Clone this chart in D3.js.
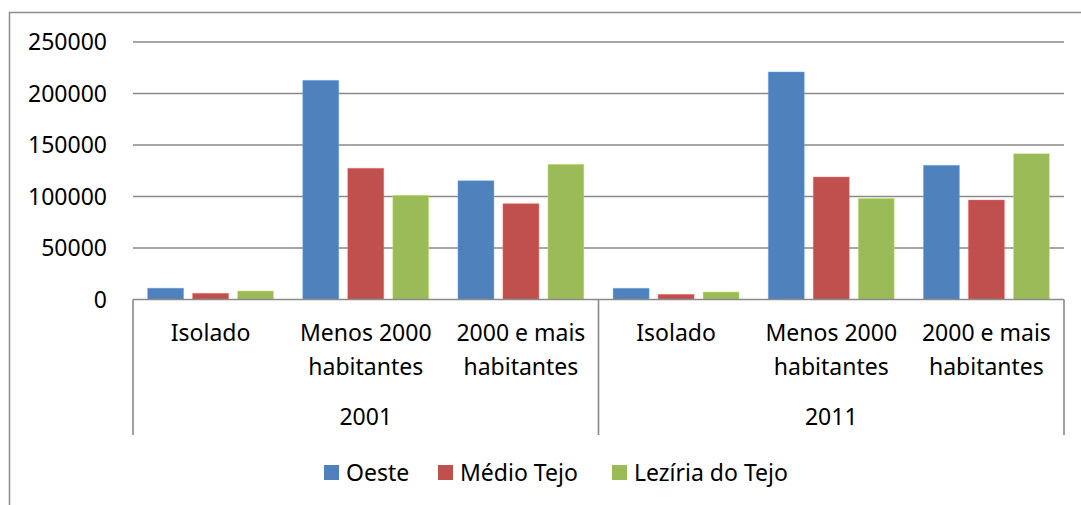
<!DOCTYPE html>
<html>
<head>
<meta charset="utf-8">
<script src="https://cdn.jsdelivr.net/npm/d3@7"></script>
<style>
  body { margin: 0; background: #fff; }
  svg { display: block; font-family: "Noto Sans", "Open Sans", sans-serif; }
</style>
</head>
<body>
<div id="chart"></div>
<script>
// Data
const years = ["2001", "2011"];
const settlements = ["Isolado", "Menos 2000 habitantes", "2000 e mais habitantes"];
const series = ["Oeste", "Médio Tejo", "Lezíria do Tejo"];
const colors = ["#4F81BD", "#C0504D", "#9BBB59"];

// values per series, ordered 2001 (Isolado, Menos, Mais) then 2011 (same)
const oeste = [11000, 212800, 115300, 10900, 220900, 130300];
const medioTejo = [6000, 127400, 93000, 5000, 118900, 96600];
const leziriaTejo = [8300, 101200, 131300, 7300, 98200, 141600];
const yTicks = [0, 50000, 100000, 150000, 200000, 250000];

const values = [oeste, medioTejo, leziriaTejo];
const W = 1081, H = 505;
const plot = { left: 133, right: 1064, top: 42, bottom: 299.5 };
const fontSize = 23;

const svg = d3.select("#chart").append("svg")
    .attr("width", W)
    .attr("height", H);

// outer chart border (runs past the bottom/right of the picture)
svg.append("rect")
    .attr("x", 9.5).attr("y", 12.5)
    .attr("width", W + 20).attr("height", H + 20)
    .attr("fill", "none")
    .attr("stroke", "#8c8c8c")
    .attr("stroke-width", 1.5);

// categories: year x settlement
const cats = [];
years.forEach((yr) => settlements.forEach((s) => cats.push(yr + "|" + s)));

const x0 = d3.scaleBand().domain(cats).range([plot.left, plot.right]);
const x1 = d3.scaleBand().domain(series).range([0, x0.bandwidth()])
    .paddingInner(0.2).paddingOuter(0.325);
const y = d3.scaleLinear().domain([0, 250000]).range([plot.bottom, plot.top]);

// gridlines
svg.append("g")
    .selectAll("line")
    .data(yTicks.slice(1))
    .join("line")
    .attr("x1", plot.left).attr("x2", plot.right)
    .attr("y1", (d) => y(d)).attr("y2", (d) => y(d))
    .attr("stroke", "#8a8a8a")
    .attr("stroke-width", 1.6);

// y tick labels
svg.append("g")
    .selectAll("text")
    .data(yTicks)
    .join("text")
    .attr("x", 107)
    .attr("y", (d) => y(d))
    .attr("dy", "0.35em")
    .attr("text-anchor", "end")
    .attr("font-size", fontSize)
    .attr("fill", "#000")
    .text((d) => d);

// bars
const barG = svg.append("g");
series.forEach((s, si) => {
    barG.append("g")
        .selectAll("rect")
        .data(values[si].map((v, i) => ({ cat: cats[i], v })))
        .join("rect")
        .attr("x", (d) => x0(d.cat) + x1(s))
        .attr("y", (d) => y(d.v))
        .attr("width", x1.bandwidth())
        .attr("height", (d) => y(0) - y(d.v))
        .attr("fill", colors[si])
        .attr("stroke", d3.color(colors[si]).brighter(0.8))
        .attr("stroke-opacity", 0.5)
        .attr("stroke-width", 0.8);
});

// category axis: baseline + separators
const axisBottom = 435;
svg.append("line")
    .attr("x1", plot.left).attr("x2", plot.right)
    .attr("y1", plot.bottom).attr("y2", plot.bottom)
    .attr("stroke", "#8a8a8a").attr("stroke-width", 1.6);

const yearScale = d3.scaleBand().domain(years).range([plot.left, plot.right]);
const seps = [plot.left, ...years.map((yr) => yearScale(yr) + yearScale.bandwidth())];
svg.append("g")
    .selectAll("line")
    .data(seps)
    .join("line")
    .attr("x1", (d) => d).attr("x2", (d) => d)
    .attr("y1", plot.bottom).attr("y2", axisBottom)
    .attr("stroke", "#8a8a8a").attr("stroke-width", 1.6);

// settlement labels (wrapped)
const labelLines = {
    "Isolado": ["Isolado"],
    "Menos 2000 habitantes": ["Menos 2000", "habitantes"],
    "2000 e mais habitantes": ["2000 e mais", "habitantes"]
};
const catLabels = svg.append("g").selectAll("text")
    .data(cats)
    .join("text")
    .attr("text-anchor", "middle")
    .attr("font-size", fontSize)
    .attr("fill", "#000");
catLabels.each(function (d) {
    const lines = labelLines[d.split("|")[1]];
    const t = d3.select(this);
    lines.forEach((ln, i) => {
        t.append("tspan")
            .attr("x", x0(d) + x0.bandwidth() / 2)
            .attr("y", 333 + i * 34)
            .attr("dy", "0.35em")
            .text(ln);
    });
});

// year labels
svg.append("g").selectAll("text")
    .data(years)
    .join("text")
    .attr("x", (d) => yearScale(d) + yearScale.bandwidth() / 2)
    .attr("y", 417)
    .attr("dy", "0.35em")
    .attr("text-anchor", "middle")
    .attr("font-size", fontSize)
    .attr("fill", "#000")
    .text((d) => d);

// legend
const legendX = [324, 438, 612];
const legend = svg.append("g").selectAll("g")
    .data(series)
    .join("g")
    .attr("transform", (d, i) => `translate(${legendX[i]}, 465)`);
legend.append("rect")
    .attr("width", 15).attr("height", 15)
    .attr("fill", (d, i) => colors[i]);
legend.append("text")
    .attr("x", 22)
    .attr("y", 7.5)
    .attr("dy", "0.35em")
    .attr("font-size", fontSize)
    .attr("fill", "#000")
    .text((d) => d);
</script>
</body>
</html>
